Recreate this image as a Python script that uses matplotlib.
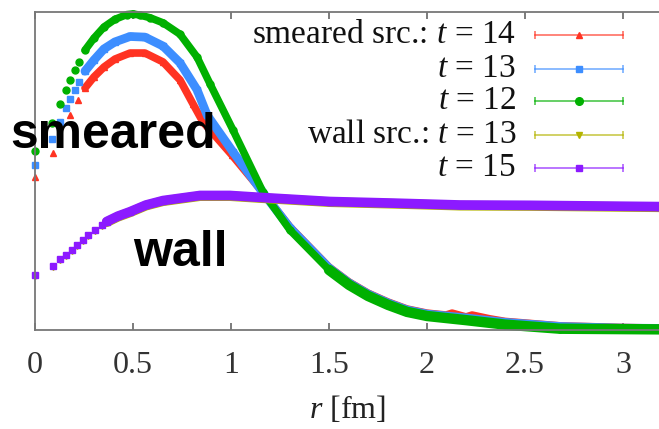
import matplotlib
matplotlib.use("Agg")
import matplotlib.pyplot as plt

plt.rcParams['font.family'] = ['Liberation Serif', 'DejaVu Serif']
plt.rcParams['mathtext.fontset'] = 'custom'
plt.rcParams['mathtext.rm'] = 'Liberation Serif'
plt.rcParams['mathtext.it'] = 'Liberation Serif:italic'

# smeared source, t = 14
r_sm14 = [0, 0.092, 0.179, 0.219, 0.255, 0.301, 0.352, 0.408, 0.485, 0.561, 0.653, 0.740,
          0.806, 0.857, 1.005, 1.153, 1.301, 1.50, 1.602, 1.699, 1.801, 1.898, 2.0, 2.097,
          2.128, 2.199, 2.230, 2.321, 2.398, 2.679, 2.985, 3.184]
v_sm14 = [0.481, 0.557, 0.676, 0.723, 0.761, 0.796, 0.827, 0.852, 0.871, 0.871, 0.843,
          0.786, 0.711, 0.654, 0.550, 0.440, 0.324, 0.198, 0.151, 0.116, 0.088, 0.066,
          0.053, 0.047, 0.053, 0.041, 0.047, 0.035, 0.027, 0.013, 0.008, 0.006]

# smeared source, t = 13
r_sm13 = [0, 0.085, 0.128, 0.158, 0.179, 0.204, 0.223, 0.255, 0.301, 0.352, 0.408, 0.485,
          0.561, 0.653, 0.740, 0.827, 0.878, 1.010, 1.153, 1.301, 1.50, 1.602, 1.699, 1.801,
          1.898, 2.0, 2.199, 2.398, 2.679, 2.985, 3.184]
v_sm13 = [0.519, 0.600, 0.654, 0.698, 0.726, 0.755, 0.780, 0.814, 0.849, 0.884, 0.906,
          0.923, 0.921, 0.893, 0.840, 0.755, 0.676, 0.560, 0.440, 0.321, 0.195, 0.148,
          0.113, 0.085, 0.063, 0.050, 0.038, 0.024, 0.011, 0.006, 0.005]

# smeared source, t = 12
r_sm12 = [0, 0.085, 0.128, 0.158, 0.179, 0.204, 0.223, 0.255, 0.301, 0.352, 0.408, 0.469,
          0.500, 0.536, 0.587, 0.653, 0.740, 0.827, 0.893, 1.010, 1.163, 1.301, 1.50, 1.602,
          1.699, 1.801, 1.898, 2.0, 2.199, 2.398, 2.679, 3.184]
v_sm12 = [0.564, 0.652, 0.711, 0.755, 0.786, 0.818, 0.844, 0.880, 0.918, 0.953, 0.977,
          0.992, 0.994, 0.990, 0.982, 0.966, 0.930, 0.858, 0.774, 0.629, 0.434, 0.314,
          0.189, 0.142, 0.107, 0.079, 0.057, 0.044, 0.031, 0.017, 0.004, 0.002]

# wall source, t = 13 and t = 15
r_wall = [0, 0.090, 0.128, 0.158, 0.187, 0.212, 0.243, 0.272, 0.306, 0.340, 0.366, 0.423,
          0.485, 0.566, 0.653, 0.842, 0.995, 1.148, 1.505, 1.827, 2.168, 2.526, 3.184]
v_wall13 = [0.171, 0.199, 0.220, 0.234, 0.250, 0.265, 0.281, 0.297, 0.312, 0.328, 0.339,
            0.356, 0.370, 0.391, 0.405, 0.421, 0.421, 0.415, 0.402, 0.397, 0.391, 0.390,
            0.386]
v_wall15 = [0.173, 0.201, 0.222, 0.236, 0.252, 0.267, 0.283, 0.299, 0.314, 0.330, 0.341,
            0.358, 0.372, 0.393, 0.407, 0.423, 0.423, 0.417, 0.404, 0.399, 0.393, 0.392,
            0.388]

# label, r, values, colour, marker, marker size, band width, start of dense band
series = [
    (r"smeared src.: $t$ = 14", r_sm14, v_sm14, '#ff3322', '^', 4.5, 5.5, 0.25),
    (r"$t$ = 13", r_sm13, v_sm13, '#3d8eff', 's', 4.3, 6.3, 0.25),
    (r"$t$ = 12", r_sm12, v_sm12, '#00b000', 'o', 5.0, 5.4, 0.25),
    (r"wall src.: $t$ = 13", r_wall, v_wall13, '#b4b400', 'v', 4.0, 7.0, 0.36),
    (r"$t$ = 15", r_wall, v_wall15, '#8c1aff', 's', 4.0, 7.0, 0.36),
]

fig = plt.figure(figsize=(6.59, 4.29), dpi=100)
ax = fig.add_axes([35 / 659, 99 / 429, 624 / 659, 318 / 429])

# wall curves first, smeared ones on top
for idx in [3, 4, 0, 1, 2]:
    label, r, v, col, mk, ms, lw, r0 = series[idx]
    dense = [i for i, x in enumerate(r) if x >= r0]
    rd = [r[i] for i in dense]
    vd = [v[i] for i in dense]
    ax.plot(rd, vd, color=col, lw=lw, solid_capstyle='round',
            solid_joinstyle='round', zorder=2 + idx * 0.1, clip_on=False)
    if idx == 2:
        # scatter of the many lattice points widens the band in the tail
        tail = [i for i, x in enumerate(rd) if x >= 1.5]
        ax.plot([rd[i] for i in tail], [vd[i] for i in tail], color=col, lw=7.5,
                solid_capstyle='round', solid_joinstyle='round', zorder=2.25,
                clip_on=False)
    ax.plot(r, v, ls='none', marker=mk, ms=ms, color=col, mec=col,
            zorder=2 + idx * 0.1, clip_on=False)

ax.set_xlim(0, 624 / 196)
ax.set_ylim(0, 1)
ax.set_xticks([0, 0.5, 1, 1.5, 2, 2.5, 3])
ax.set_xticklabels(['0', '0.5', '1', '1.5', '2', '2.5', '3'])
ax.set_yticks([])
ax.tick_params(axis='x', direction='in', length=5, width=1.2, color='#666666',
               top=True, labelsize=23, pad=15, labelcolor='#333333')
for side in ['left', 'bottom', 'top']:
    ax.spines[side].set_color('#777777')
    ax.spines[side].set_linewidth(1.3)
ax.spines['right'].set_visible(False)
ax.set_xlabel(r"$r$ [fm]", fontsize=23, labelpad=10, color='#222222')

# gnuplot-style key: right-aligned text, horizontal bar with caps
key_y = [0.928, 0.821, 0.720, 0.613, 0.509]
for (label, r, v, col, mk, ms, lw, r0), ky in zip(series, key_y):
    ax.text(0.771, ky, label, transform=ax.transAxes, ha='right', va='center',
            fontsize=24, color='#111111')
    ax.plot([0.801, 0.942], [ky, ky], transform=ax.transAxes, color=col, lw=1.2,
            alpha=0.7, clip_on=False)
    ax.plot([0.801, 0.942], [ky, ky], transform=ax.transAxes, ls='none', marker='|',
            ms=6, mew=1.2, color=col, alpha=0.7, clip_on=False)
    ax.plot([0.872], [ky], transform=ax.transAxes, ls='none', marker=mk, ms=ms + 0.5,
            color=col, clip_on=False)

# panel tags
fig.text(10 / 659, (429 - 148) / 429, 'smeared', family='Liberation Sans',
         weight='bold', fontsize=36, ha='left', va='baseline', color='black')
fig.text(133 / 659, (429 - 266) / 429, 'wall', family='Liberation Sans',
         weight='bold', fontsize=36, ha='left', va='baseline', color='black')

fig.savefig('out.png', dpi=100)
